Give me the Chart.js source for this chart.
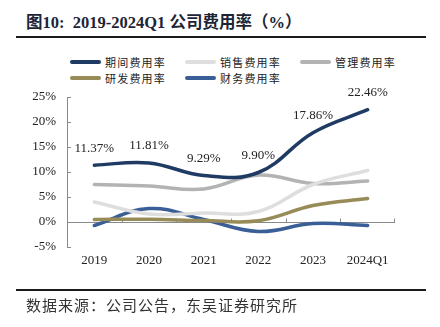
<!DOCTYPE html>
<html>
<head>
<meta charset="utf-8">
<script src="https://cdn.jsdelivr.net/npm/chart.js@4.4.1/dist/chart.umd.min.js"></script>
<style>
  body { margin: 0; background: #fff; width: 440px; height: 327px; overflow: hidden; position: relative;
         font-family: "Liberation Serif", "Noto Sans CJK SC", serif; }
  #title { position: absolute; left: 26px; top: 9px; font-size: 16.5px; font-weight: bold; color: #1c2536; white-space: nowrap; }
  .rule { position: absolute; left: 16px; width: 410px; background: #1a1a1a; }
  #legend { position: absolute; left: 0; top: 0; }
  .item { position: absolute; display: flex; align-items: center; height: 14px; white-space: nowrap; }
  .swatch { width: 31px; height: 4px; border-radius: 2px; margin-right: 4px; }
  .item span { font-family: "Noto Sans CJK SC", sans-serif; font-size: 11px; letter-spacing: 1.2px; color: #222; }
  #source { position: absolute; left: 26px; top: 295px; font-family: "Noto Sans CJK SC", sans-serif; font-size: 15px;
            letter-spacing: 1px; color: #333; white-space: nowrap; line-height: 20px; }
  #chart { position: absolute; left: 0; top: 0; }
</style>
</head>
<body>
<div id="title">图10:&nbsp; 2019-2024Q1 公司费用率（%）</div>
<div class="rule" style="top:36px;height:2px;"></div>
<div id="legend"></div>
<canvas id="chart" width="440" height="327"></canvas>
<div class="rule" style="top:289px;height:1.5px;"></div>
<div id="source">数据来源：公司公告，东吴证券研究所</div>
<script>
const years = ["2019", "2020", "2021", "2022", "2023", "2024Q1"];

const periodRate = [11.37, 11.81, 9.29, 9.90, 17.86, 22.46];
const salesRate  = [4.0, 1.6, 1.8, 2.1, 7.5, 10.3];
const adminRate  = [7.5, 7.2, 6.6, 9.4, 7.7, 8.2];
const rndRate    = [0.5, 0.55, 0.3, 0.25, 3.3, 4.7];
const financeRate = [-0.7, 2.7, 0.5, -1.9, -0.3, -0.7];

const yTicks = [-5, 0, 5, 10, 15, 20, 25];

const series = [
  { name: "期间费用率", data: periodRate, color: "#1f3a63" },
  { name: "销售费用率", data: salesRate, color: "#dedede" },
  { name: "管理费用率", data: adminRate, color: "#b3b3b3" },
  { name: "研发费用率", data: rndRate, color: "#978b58" },
  { name: "财务费用率", data: financeRate, color: "#3a5f96" }
];

// legend laid out as a 3-column grid
const legendPos = [[70, 55], [185, 55], [300, 55], [70, 71], [185, 71]];
const legendEl = document.getElementById("legend");
series.forEach((s, i) => {
  const div = document.createElement("div");
  div.className = "item";
  div.style.left = legendPos[i][0] + "px";
  div.style.top = legendPos[i][1] + "px";
  div.innerHTML = `<div class="swatch" style="background:${s.color}"></div><span>${s.name}</span>`;
  legendEl.appendChild(div);
});

const axisColor = "#8a8a8a";
const serif = "'Liberation Serif', 'Times New Roman', serif";

// zero line with inward ticks, and inward ticks on the y axis
const axisMarks = {
  id: "axisMarks",
  beforeDatasetsDraw(chart) {
    const { ctx, chartArea, scales } = chart;
    const x = scales.x, y = scales.y;
    const y0 = Math.round(y.getPixelForValue(0)) + 0.5;
    ctx.save();
    ctx.strokeStyle = axisColor;
    ctx.lineWidth = 1;
    ctx.beginPath();
    ctx.moveTo(chartArea.left, y0);
    ctx.lineTo(chartArea.right, y0);
    for (let i = 0; i < years.length; i++) {
      const bx = Math.round((x.getPixelForValue(i) + x.getPixelForValue(i + 1)) / 2) + 0.5;
      ctx.moveTo(Math.min(bx, chartArea.right - 0.5), y0);
      ctx.lineTo(Math.min(bx, chartArea.right - 0.5), y0 - 4);
    }
    yTicks.forEach(v => {
      const py = Math.round(y.getPixelForValue(v)) + 0.5;
      ctx.moveTo(chartArea.left, py);
      ctx.lineTo(chartArea.left + 4, py);
    });
    ctx.stroke();
    ctx.restore();
  }
};

// value labels above the first series
const valueLabels = {
  id: "valueLabels",
  afterDatasetsDraw(chart) {
    const { ctx } = chart;
    const meta = chart.getDatasetMeta(0);
    ctx.save();
    ctx.font = "13px " + serif;
    ctx.fillStyle = "#222";
    ctx.textAlign = "center";
    ctx.textBaseline = "middle";
    meta.data.forEach((pt, i) => {
      ctx.fillText(periodRate[i].toFixed(2) + "%", pt.x, pt.y - 17);
    });
    ctx.restore();
  }
};

new Chart(document.getElementById("chart"), {
  type: "line",
  data: {
    labels: years,
    datasets: series.map(s => ({
      label: s.name,
      data: s.data,
      borderColor: s.color,
      backgroundColor: s.color,
      borderWidth: 3.5,
      tension: 0.4,
      pointRadius: 0,
      fill: false,
      borderCapStyle: "round"
    }))
  },
  options: {
    responsive: false,
    animation: false,
    layout: { padding: { left: 20, right: 45, top: 97, bottom: 50 } },
    plugins: { legend: { display: false }, tooltip: { enabled: false } },
    scales: {
      x: {
        offset: true,
        grid: { display: false, drawTicks: false },
        border: { display: false },
        ticks: { color: "#222", font: { family: serif, size: 13 }, padding: 6, maxRotation: 0 },
        afterFit(scale) { scale.height = 30; }
      },
      y: {
        min: -5,
        max: 25,
        afterBuildTicks(scale) { scale.ticks = yTicks.map(v => ({ value: v })); },
        grid: { drawOnChartArea: false, drawTicks: false },
        border: { display: true, color: axisColor, width: 1 },
        ticks: { color: "#222", font: { family: serif, size: 13 }, padding: 11, callback: v => v + "%" },
        afterFit(scale) { scale.width = 47; }
      }
    }
  },
  plugins: [axisMarks, valueLabels]
});
</script>
</body>
</html>
